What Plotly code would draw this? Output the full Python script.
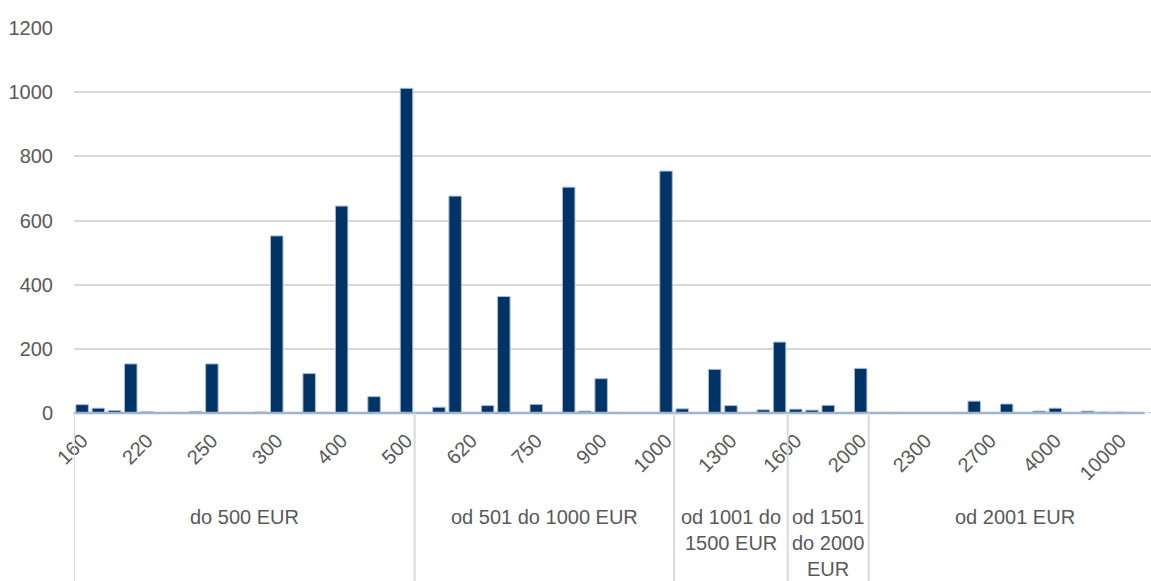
import plotly.graph_objects as go

# values per salary category (67 categories, left to right)
counts = [26, 15, 8, 153, 4, 1, 2, 5, 153, 2, 1, 3, 552, 1, 123, 2, 645, 1, 51, 2, 1012,
          0, 18, 676, 0, 23, 363, 0, 27, 0, 704, 6, 107, 2, 0, 0, 754,
          13, 0, 136, 23, 0, 10, 221,
          12, 9, 24, 0, 139,
          0, 2, 0, 0, 0, 2, 37, 0, 28, 0, 6, 15, 1, 6, 3, 3, 0, 0]
# only every 4th category carries a visible label
tick_labels = ["160", "220", "250", "300", "400", "500", "620", "750", "900", "1000",
               "1300", "1600", "2000", "2300", "2700", "4000", "10000"]
groups = ["do 500 EUR", "od 501 do 1000 EUR", "od 1001 do<br>1500 EUR",
          "od 1501<br>do 2000<br>EUR", "od 2001 EUR"]
group_sizes = [21, 16, 7, 5, 18]

font_fam = "Liberation Sans, Arial, sans-serif"
grey = "#595959"
x = list(range(len(counts)))

fig = go.Figure()
fig.add_trace(go.Bar(
    x=x, y=counts,
    marker=dict(color="#003366", line=dict(color="#a9bcd3", width=1)),
    showlegend=False,
))
# light base dash under every bar
fig.add_trace(go.Scatter(
    x=x, y=[0] * len(x), mode="markers",
    marker=dict(symbol="line-ew", size=12, line=dict(color="#9fb4cc", width=2.5)),
    cliponaxis=False, showlegend=False, hoverinfo="skip",
))

# group dividers and labels
start = 0
bounds = [-0.5]
for name, size in zip(groups, group_sizes):
    end = start + size
    bounds.append(end - 0.5)
    centre = (start + end - 1) / 2
    for i, line in enumerate(name.split("<br>")):
        fig.add_annotation(x=centre, y=-0.273, xref="x", yref="paper",
                           text=line, showarrow=False, yanchor="middle",
                           yshift=1 - 26 * i,
                           font=dict(family=font_fam, size=20, color=grey))
    start = end
for b in bounds:
    fig.add_shape(type="line", xref="x", yref="paper", x0=b, x1=b, y0=0, y1=-0.5,
                  line=dict(color="#d9d9d9", width=2))

fig.update_layout(
    width=1151, height=581,
    margin=dict(l=74, r=0, t=28, b=168),
    plot_bgcolor="white", paper_bgcolor="white",
    bargap=0.23,
    font=dict(family=font_fam, size=20, color=grey),
)
fig.update_xaxes(
    range=[-0.5, 65.9], automargin=False,
    tickmode="array", tickvals=x[::4], ticktext=tick_labels,
    tickangle=-45, showgrid=False, showline=False, zeroline=False,
    ticks="", ticklabelstandoff=11,
)
fig.update_yaxes(
    range=[0, 1200], dtick=200, automargin=False,
    gridcolor="#d9d9d9", gridwidth=1.5, zeroline=False, showline=False,
    ticks="", ticklabelstandoff=20,
)

# drop the default page margin so the figure sits at the window's corner
fig.write_html("out.html", config={"displayModeBar": False},
               post_script="document.body.style.margin='0';")
